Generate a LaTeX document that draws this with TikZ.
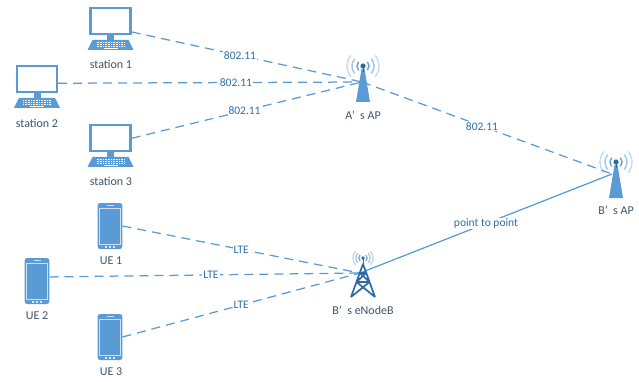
\documentclass[tikz,border=0pt]{standalone}
\usepackage{fontspec}
\setmainfont{Carlito}
\usepackage{color}
\definecolor{linkblue}{HTML}{5B9BD5}
\definecolor{iconblue}{HTML}{5B9BD5}
\definecolor{darkblue}{HTML}{2E6AA8}
\definecolor{textblue}{HTML}{2F6FA8}
\definecolor{textgrey}{HTML}{3F5468}
\newcommand{\gapq}{’\hspace{.45em}}
\tikzset{
 wave/.style={draw=iconblue,line width=1.5pt,line cap=round},
 devbox/.style={draw=none,fill=none,inner sep=0pt},
 devtext/.style={text=textgrey,font=\fontsize{12}{14}\selectfont,inner sep=1pt},
 linktext/.style={text=textblue,fill=white,font=\fontsize{11.5}{14}\selectfont,inner sep=1pt},
 wifi/.style={dashed,dash pattern=on 9pt off 6pt,draw=linkblue,line width=1.25pt},
 backhaul/.style={draw=linkblue,line width=1.25pt},
 computer/.pic={
  \draw[iconblue,line width=2.6pt,fill=white] (-20,-21) rectangle (20,5);
  \fill[iconblue] (-3.5,6) rectangle (3.5,11);
  \fill[iconblue] (-18,11) -- (18,11) -- (23,21) -- (-23,21) -- cycle;
  \foreach \y in {13.5,15.5,17.5}
   \draw[white,line width=1pt,dash pattern=on 1pt off .6pt] (-14,\y) -- (14,\y);
  \draw[white,line width=1.2pt] (-7,19.3) -- (7,19.3);
 },
 phone/.pic={
  \fill[iconblue,rounded corners=2.5pt] (-12.3,-23) rectangle (12.3,23);
  \draw[white!70!iconblue,line width=.8pt] (-10.3,-17.5) rectangle (10.3,18);
  \draw[white!70!iconblue,line width=.8pt] (-3.5,-20.5) -- (3.5,-20.5);
  \foreach \x in {-4,0,4}
   \fill[white!80!iconblue] (\x-1,19.8) rectangle (\x+1,21.6);
 },
 waves/.pic={
  \foreach \r/\o in {6/.9,11/.55,16/.35} {
   \draw[wave,opacity=\o] (\r*.77,-\r*.64) arc (-40:40:\r);
   \draw[wave,opacity=\o] (-\r*.77,-\r*.64) arc (220:140:\r);
  }
 },
 smallwaves/.pic={
  \foreach \r/\o in {4/.8,7/.5,10/.35} {
   \draw[wave,opacity=\o] (\r*.77,-\r*.64) arc (-40:40:\r);
   \draw[wave,opacity=\o] (-\r*.77,-\r*.64) arc (220:140:\r);
  }
 },
 wifitower/.pic={
  \pic {waves};
  \fill[iconblue] (-1.5,3) -- (1.5,3) -- (7,36) -- (-7,36) -- cycle;
  \fill[darkblue] (0,0) circle (2.6);
  \draw[darkblue,line width=1pt] (0,0) -- (0,6);
 },
 lattice/.pic={
  \pic {smallwaves};
  \draw[darkblue,line width=1.7pt,line join=round]
   (-12,39) -- (0,6) -- (12,39)
   (-12,39) -- (6.5,24) -- (-6.5,24) -- (12,39)
   (-6.5,24) -- (3,15) -- (-3,15) -- (6.5,24);
  \fill[darkblue] (0,0) circle (1.8);
  \draw[darkblue,line width=1pt] (0,0) -- (0,7);
 },
}
\begin{document}
\begin{tikzpicture}
[x=1pt,y=-1pt]
\useasboundingbox (0,0) rectangle (639,382);

% devices
\node[devbox,minimum width=42pt,minimum height=42pt] (stn1) at (110.5,29) {};
\node[devbox,minimum width=42pt,minimum height=42pt] (stn2) at (37,87) {};
\node[devbox,minimum width=42pt,minimum height=42pt] (stn3) at (110.5,146) {};
\node[devbox,minimum width=24.6pt,minimum height=46pt] (ue1) at (110,226) {};
\node[devbox,minimum width=24.6pt,minimum height=46pt] (ue2) at (37,281) {};
\node[devbox,minimum width=24.6pt,minimum height=46pt] (ue3) at (110,337) {};
\coordinate (apA) at (362,82);
\coordinate (apB) at (612,174);
\coordinate (enb) at (360,273);

% links
\foreach \from/\to/\where/\txt in {stn1.-8/apA/.47/802.11,stn2.10/apA/.585/802.11,stn3.20/apA/.49/802.11,apA/apB/.48/802.11}
\draw[wifi] (\from) -- node[linktext,pos=\where] {\txt} (\to);
\foreach \from/\to/\where in {ue1.east/enb/.5,ue2.18/enb/.52,ue3.east/enb/.5}
\draw[wifi] (\from) -- node[linktext,pos=\where] {LTE} (\to);
\draw[backhaul] (enb) -- node[linktext,pos=.5] {point to point} (apB);

% icons
\foreach \n in {stn1,stn2,stn3}
\pic at (\n) {computer};
\foreach \n in {ue1,ue2,ue3}
\pic at (\n) {phone};
\pic at (363,66) {wifitower};
\pic at (616,162) {wifitower};
\pic at (363,258) {lattice};

% names
\node[devtext] (stn1name) at (111,64) {station 1};
\node[devtext] (stn2name) at (37,123) {station 2};
\node[devtext] (stn3name) at (111,181) {station 3};
\node[devtext] (ue1name) at (111,261) {UE 1};
\node[devtext] (ue2name) at (37,316) {UE 2};
\node[devtext] (ue3name) at (111,372) {UE 3};
\node[devtext] (apAname) at (363,115) {A\gapq s AP};
\node[devtext] (apBname) at (616,210) {B\gapq s AP};
\node[devtext] (enbname) at (363,310) {B\gapq s eNodeB};
\end{tikzpicture}
\end{document}
